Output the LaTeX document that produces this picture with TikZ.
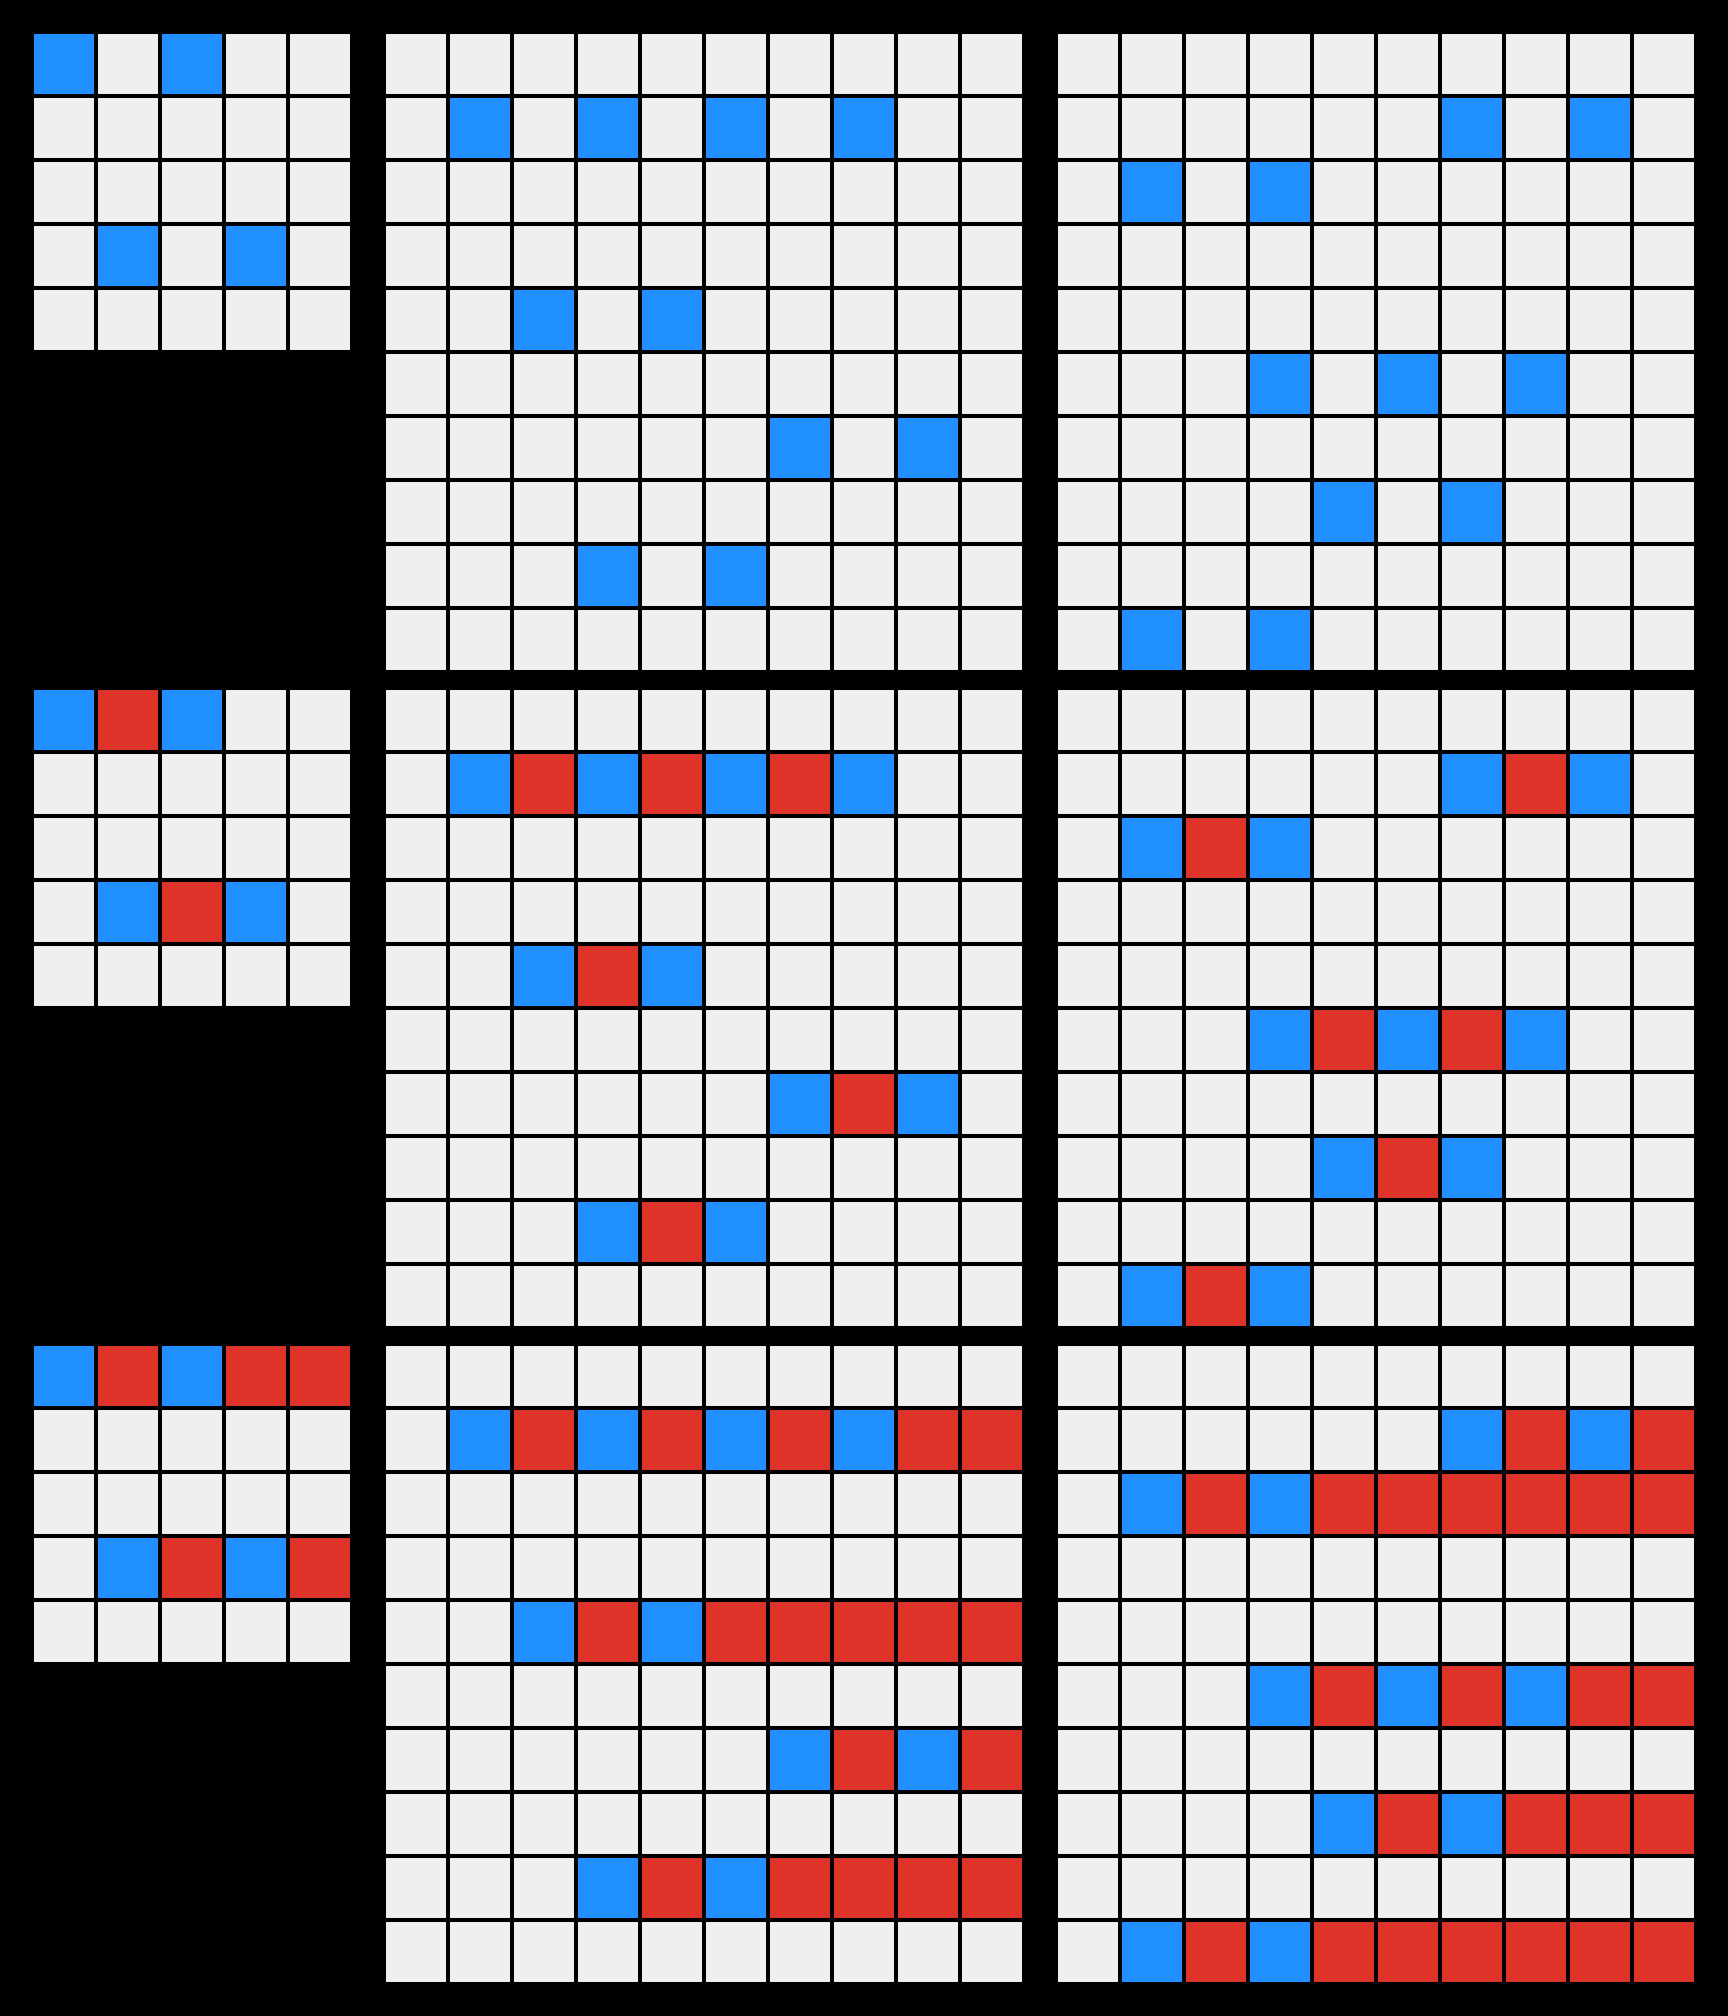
\documentclass[tikz,border=0pt]{standalone}
\definecolor{paper}{HTML}{EFEFEF}
\definecolor{seedblue}{HTML}{1E90FF}
\definecolor{bridgered}{HTML}{DD3329}

\begin{document}
\begin{tikzpicture}[
    x=1cm,y=-1cm,
    cell/.style={draw=black,line width=1.4pt},
    empty/.style={cell,fill=paper},
    seed/.style={cell,fill=seedblue},
    bridge/.style={cell,fill=bridgered}
]
    \fill[black] (0,0) rectangle (27,31.5);

    % One band per stage; small board at x=.5, the two large ones at 6 and 16.5.
    \foreach \band in {.5,10.75,21} {
        \foreach \c in {0,...,4}
            \foreach \r in {0,...,4}
                \draw[empty] (.5+\c,\band+\r) rectangle ++(1,1);
        \foreach \board in {6,16.5}
            \foreach \c in {0,...,9}
                \foreach \r in {0,...,9}
                    \draw[empty] (\board+\c,\band+\r) rectangle ++(1,1);

        % Seeds are the same in every stage.
        \foreach \c/\r in {0/0,2/0,1/3,3/3}
            \draw[seed] (.5+\c,\band+\r) rectangle ++(1,1);
        \foreach \c/\r in {1/1,3/1,5/1,7/1,2/4,4/4,6/6,8/6,3/8,5/8}
            \draw[seed] (6+\c,\band+\r) rectangle ++(1,1);
        \foreach \c/\r in {6/1,8/1,1/2,3/2,3/5,5/5,7/5,4/7,6/7,1/9,3/9}
            \draw[seed] (16.5+\c,\band+\r) rectangle ++(1,1);
    }

    % Stage two: gaps between seed pairs.
    \foreach \c/\r in {1/0,2/3}
        \draw[bridge] (.5+\c,10.75+\r) rectangle ++(1,1);
    \foreach \c/\r in {2/1,4/1,6/1,3/4,7/6,4/8}
        \draw[bridge] (6+\c,10.75+\r) rectangle ++(1,1);
    \foreach \c/\r in {7/1,2/2,4/5,6/5,5/7,2/9}
        \draw[bridge] (16.5+\c,10.75+\r) rectangle ++(1,1);

    % Stage three: gaps plus the run out to the right edge.
    \foreach \c/\r in {1/0,3/0,4/0,2/3,4/3}
        \draw[bridge] (.5+\c,21+\r) rectangle ++(1,1);
    \foreach \c/\r in {2/1,4/1,6/1,8/1,9/1,3/4,5/4,6/4,7/4,8/4,9/4,
                       7/6,9/6,4/8,6/8,7/8,8/8,9/8}
        \draw[bridge] (6+\c,21+\r) rectangle ++(1,1);
    \foreach \c/\r in {7/1,9/1,2/2,4/2,5/2,6/2,7/2,8/2,9/2,4/5,6/5,8/5,9/5,
                       5/7,7/7,8/7,9/7,2/9,4/9,5/9,6/9,7/9,8/9,9/9}
        \draw[bridge] (16.5+\c,21+\r) rectangle ++(1,1);
\end{tikzpicture}
\end{document}
